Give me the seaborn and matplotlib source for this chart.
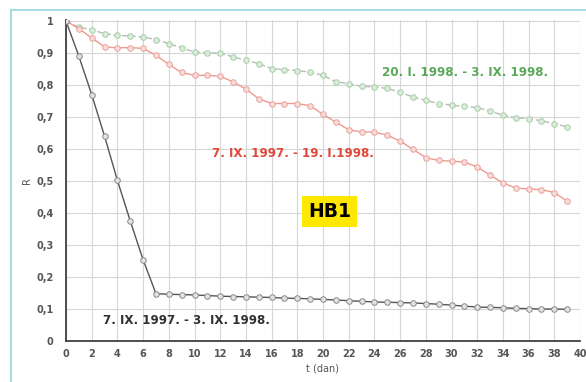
import numpy as np
import pandas as pd
import seaborn as sns
import matplotlib.pyplot as plt
from matplotlib.patches import Rectangle
from matplotlib.ticker import FuncFormatter

sns.set_theme(style="white")
plt.rcParams['font.family'] = ['DejaVu Sans']

days = list(range(0, 40))

r_black = [1.0, 0.89, 0.77, 0.64, 0.502, 0.375, 0.254, 0.148, 0.146, 0.145,
           0.144, 0.142, 0.140, 0.139, 0.138, 0.137, 0.136, 0.134, 0.133, 0.132,
           0.130, 0.128, 0.126, 0.124, 0.122, 0.121, 0.120, 0.119, 0.117, 0.115,
           0.112, 0.109, 0.106, 0.105, 0.104, 0.102, 0.101, 0.100, 0.100, 0.099]

r_red = [1.0, 0.976, 0.947, 0.919, 0.916, 0.917, 0.914, 0.893, 0.864, 0.839,
         0.830, 0.830, 0.827, 0.810, 0.787, 0.757, 0.742, 0.742, 0.742, 0.735,
         0.708, 0.684, 0.660, 0.653, 0.653, 0.643, 0.625, 0.599, 0.573, 0.564,
         0.562, 0.559, 0.544, 0.518, 0.494, 0.478, 0.475, 0.473, 0.464, 0.437]

r_green = [1.0, 0.98, 0.973, 0.96, 0.955, 0.953, 0.95, 0.942, 0.929, 0.916,
           0.903, 0.901, 0.899, 0.888, 0.877, 0.867, 0.851, 0.848, 0.845, 0.840,
           0.830, 0.810, 0.804, 0.796, 0.794, 0.789, 0.778, 0.762, 0.752, 0.742,
           0.737, 0.733, 0.729, 0.719, 0.705, 0.698, 0.695, 0.688, 0.679, 0.669]

label_black = "7. IX. 1997. - 3. IX. 1998."
label_red = "7. IX. 1997. - 19. I.1998."
label_green = "20. I. 1998. - 3. IX. 1998."

x_ticks = list(range(0, 41, 2))
y_ticks = [0, 0.1, 0.2, 0.3, 0.4, 0.5, 0.6, 0.7, 0.8, 0.9, 1.0]

df = pd.concat([
    pd.DataFrame({"t": days, "R": r_black, "s": "black"}),
    pd.DataFrame({"t": days, "R": r_red, "s": "red"}),
    pd.DataFrame({"t": days, "R": r_green, "s": "green"}),
])

W, H = 586, 382
fig = plt.figure(figsize=(W / 100, H / 100), dpi=100)
fig.patch.set_facecolor("white")
ax = fig.add_axes([66 / W, 1 - 341 / H, (580 - 66) / W, (341 - 20) / H])

styles = {
    "green": dict(color="#b8bcb8", mec="#a6cfa6", mfc="#dcecdc", ls=(0, (4, 2))),
    "red": dict(color="#ee9a92", mec="#eba29c", mfc="#f8dcd8", ls="-"),
    "black": dict(color="#555555", mec="#8a8a8a", mfc="#e2e2e2", ls="-"),
}
for key in ["green", "red", "black"]:
    st = styles[key]
    sub = df[df.s == key]
    sns.lineplot(data=sub, x="t", y="R", ax=ax, color=st["color"], lw=1.0,
                 linestyle=st["ls"], marker="o", markersize=4,
                 markeredgecolor=st["mec"], markerfacecolor=st["mfc"],
                 markeredgewidth=0.7, legend=False, zorder=3)

ax.set_xlim(0, 40)
ax.set_ylim(0, 1.003)
ax.set_xticks(x_ticks)
ax.set_yticks(y_ticks)
ax.yaxis.set_major_formatter(FuncFormatter(
    lambda v, p: "0" if v == 0 else ("1" if abs(v - 1) < 1e-9 else f"{v:.1f}".replace(".", ","))))
ax.grid(True, color="#d6d6d6", lw=0.8)
ax.set_axisbelow(True)
for s in ["top", "right"]:
    ax.spines[s].set_visible(False)
for s in ["left", "bottom"]:
    ax.spines[s].set_color("#404040")
    ax.spines[s].set_linewidth(1.3)
ax.tick_params(axis="both", direction="in", length=3, width=1, color="#404040",
               labelsize=7, labelcolor="#555555")
ax.tick_params(axis="y", pad=9)
ax.tick_params(axis="x", pad=6)
for lab in ax.get_xticklabels() + ax.get_yticklabels():
    lab.set_fontweight("bold")
ax.set_xlabel("t (dan)", fontsize=7, color="#555555", labelpad=3)
ax.set_ylabel("R", fontsize=7, color="#555555", labelpad=3, rotation=90)

ax.text(24.6, 0.84, label_green, color="#5aa85a", fontsize=8.6, fontweight="bold",
        ha="left", va="center")
ax.text(11.4, 0.587, label_red, color="#e0483a", fontsize=8.6, fontweight="bold",
        ha="left", va="center")
ax.text(2.9, 0.064, label_black, color="#303030", fontsize=8.6, fontweight="bold",
        ha="left", va="center")
ax.text(20.5, 0.404, "HB1", color="black", fontsize=13.5, fontweight="bold",
        ha="center", va="center",
        bbox=dict(boxstyle="square,pad=0.32", fc="#ffe800", ec="none"))

fig.patches.append(Rectangle((11 / W, -0.1), 1.2, 1 - 10 / H + 0.1,
                             transform=fig.transFigure, fill=False,
                             ec="#a8dce4", lw=1.5))

fig.savefig("out.png", dpi=100)
